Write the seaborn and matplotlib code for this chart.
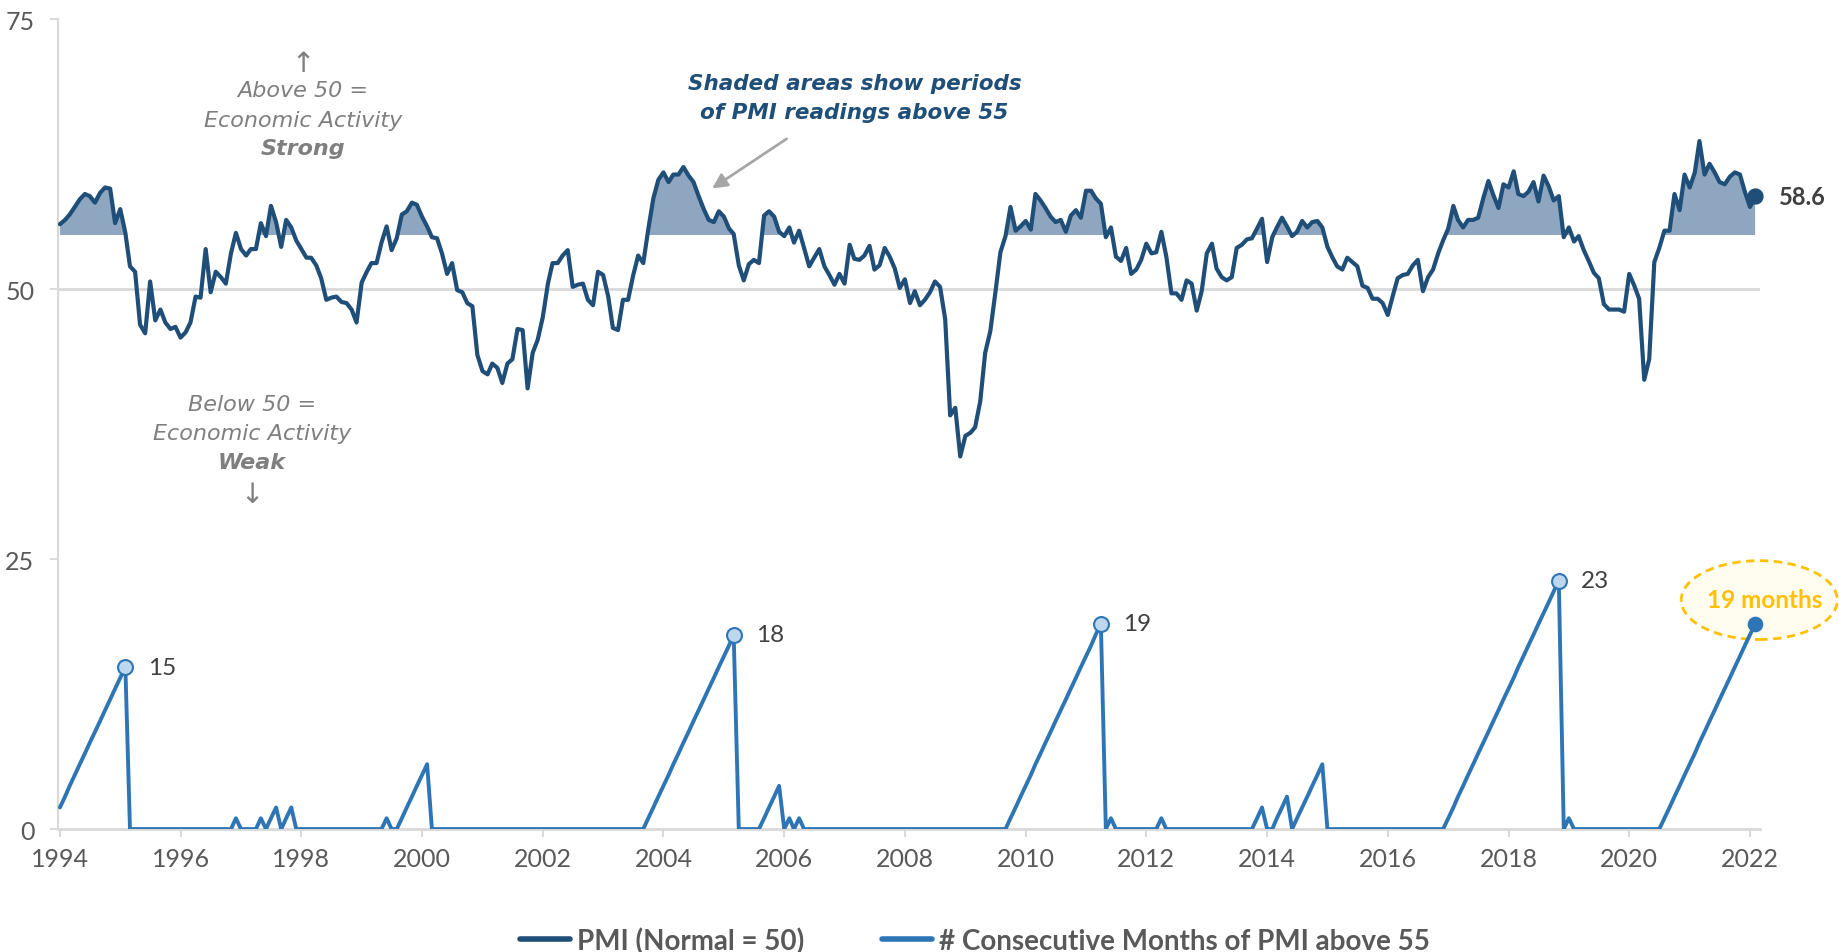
import pandas as pd
import matplotlib
matplotlib.use("Agg")
import matplotlib.pyplot as plt
import matplotlib.dates as mdates
from matplotlib.patches import Ellipse
from matplotlib.lines import Line2D
import seaborn as sns

# ISM manufacturing PMI, monthly from Jan 1994
pmi_1990s = [
    56.0, 56.4, 56.9, 57.6, 58.3, 58.8, 58.6, 58.0, 58.9, 59.4, 59.3, 56.1,  # 1994
    57.4, 55.2, 52.1, 51.6, 46.7, 45.9, 50.7, 47.1, 48.1, 46.9, 46.3, 46.5,  # 1995
    45.5, 46.0, 46.9, 49.3, 49.2, 53.7, 49.7, 51.6, 51.1, 50.5, 53.3, 55.2,  # 1996
    53.7, 53.1, 53.7, 53.7, 56.1, 54.9, 57.7, 56.2, 53.9, 56.4, 55.7, 54.5,  # 1997
    53.7, 52.9, 52.9, 52.2, 51.0, 49.0, 49.2, 49.3, 48.8, 48.7, 48.1, 46.9,  # 1998
    50.6, 51.6, 52.4, 52.4, 54.3, 55.8, 53.6, 54.7, 56.9, 57.2, 58.0, 57.8,  # 1999
]
pmi_2000s = [
    56.7, 55.8, 54.8, 54.7, 53.3, 51.4, 52.4, 49.9, 49.7, 48.7, 48.4, 43.9,  # 2000
    42.4, 42.1, 43.1, 42.7, 41.3, 43.1, 43.5, 46.3, 46.2, 40.8, 44.1, 45.3,  # 2001
    47.4, 50.5, 52.4, 52.4, 53.1, 53.6, 50.2, 50.4, 50.5, 49.0, 48.5, 51.6,  # 2002
    51.3, 49.3, 46.4, 46.2, 49.0, 49.0, 51.2, 53.1, 52.4, 55.5, 58.4, 60.1,  # 2003
    60.8, 59.9, 60.6, 60.6, 61.3, 60.5, 59.9, 58.6, 57.4, 56.4, 56.2, 57.2,  # 2004
    56.7, 55.6, 55.1, 52.2, 50.8, 52.3, 52.7, 52.4, 56.8, 57.2, 56.7, 55.3,  # 2005
    54.9, 55.7, 54.3, 55.4, 53.8, 52.1, 52.9, 53.7, 52.1, 51.3, 50.4, 51.4,  # 2006
    50.5, 54.1, 52.8, 52.7, 53.1, 54.0, 51.8, 52.2, 53.8, 53.0, 51.9, 50.1,  # 2007
    50.9, 48.7, 49.8, 48.5, 49.0, 49.7, 50.7, 50.2, 47.2, 38.3, 39.0, 34.5,  # 2008
    36.4, 36.7, 37.2, 39.6, 44.1, 46.1, 49.6, 53.4, 54.9, 57.6, 55.4, 55.8,  # 2009
]
pmi_2010s = [
    56.3, 55.5, 58.8, 58.2, 57.5, 56.7, 56.2, 56.4, 55.3, 56.8, 57.3, 56.6,  # 2010
    59.1, 59.1, 58.4, 57.9, 54.8, 55.7, 53.0, 52.6, 53.8, 51.4, 51.8, 52.7,  # 2011
    54.2, 53.3, 53.4, 55.3, 53.0, 49.6, 49.6, 49.0, 50.8, 50.5, 48.0, 49.8,  # 2012
    53.3, 54.2, 51.9, 51.1, 50.8, 51.1, 53.8, 54.1, 54.6, 54.7, 55.6, 56.5,  # 2013
    52.5, 54.8, 55.7, 56.6, 55.8, 54.9, 55.3, 56.3, 55.7, 56.2, 56.3, 55.7,  # 2014
    53.9, 52.9, 52.1, 51.8, 52.9, 52.5, 52.1, 50.3, 50.1, 49.1, 49.1, 48.7,  # 2015
    47.6, 49.4, 51.0, 51.3, 51.4, 52.2, 52.7, 49.8, 51.1, 51.8, 53.3, 54.5,  # 2016
    55.6, 57.7, 56.4, 55.7, 56.4, 56.4, 56.6, 58.4, 60.0, 58.7, 57.5, 59.7,  # 2017
    59.4, 60.9, 58.8, 58.6, 59.0, 59.9, 58.1, 60.5, 59.5, 58.2, 58.6, 54.8,  # 2018
    55.7, 54.4, 54.9, 53.6, 52.6, 51.5, 51.0, 48.6, 48.1, 48.1, 48.1, 47.9,  # 2019
]
pmi_2020s = [
    51.4, 50.3, 49.1, 41.6, 43.5, 52.5, 53.8, 55.4, 55.4, 58.8, 57.3, 60.6,  # 2020
    59.4, 60.8, 63.7, 60.6, 61.6, 60.8, 59.9, 59.7, 60.4, 60.8, 60.6, 59.0,  # 2021
    57.6, 58.6,                                                              # 2022
]

# consecutive months with PMI above 55
streak_1990s = [
    2, 3, 4, 5, 6, 7, 8, 9, 10, 11, 12, 13,
    14, 15, 0, 0, 0, 0, 0, 0, 0, 0, 0, 0,
    0, 0, 0, 0, 0, 0, 0, 0, 0, 0, 0, 1,
    0, 0, 0, 0, 1, 0, 1, 2, 0, 1, 2, 0,
    0, 0, 0, 0, 0, 0, 0, 0, 0, 0, 0, 0,
    0, 0, 0, 0, 0, 1, 0, 0, 1, 2, 3, 4,
]
streak_2000s = [
    5, 6, 0, 0, 0, 0, 0, 0, 0, 0, 0, 0,
    0, 0, 0, 0, 0, 0, 0, 0, 0, 0, 0, 0,
    0, 0, 0, 0, 0, 0, 0, 0, 0, 0, 0, 0,
    0, 0, 0, 0, 0, 0, 0, 0, 0, 1, 2, 3,
    4, 5, 6, 7, 8, 9, 10, 11, 12, 13, 14, 15,
    16, 17, 18, 0, 0, 0, 0, 0, 1, 2, 3, 4,
    0, 1, 0, 1, 0, 0, 0, 0, 0, 0, 0, 0,
    0, 0, 0, 0, 0, 0, 0, 0, 0, 0, 0, 0,
    0, 0, 0, 0, 0, 0, 0, 0, 0, 0, 0, 0,
    0, 0, 0, 0, 0, 0, 0, 0, 0, 1, 2, 3,
]
streak_2010s = [
    4, 5, 6, 7, 8, 9, 10, 11, 12, 13, 14, 15,
    16, 17, 18, 19, 0, 1, 0, 0, 0, 0, 0, 0,
    0, 0, 0, 1, 0, 0, 0, 0, 0, 0, 0, 0,
    0, 0, 0, 0, 0, 0, 0, 0, 0, 0, 1, 2,
    0, 0, 1, 2, 3, 0, 1, 2, 3, 4, 5, 6,
    0, 0, 0, 0, 0, 0, 0, 0, 0, 0, 0, 0,
    0, 0, 0, 0, 0, 0, 0, 0, 0, 0, 0, 0,
    1, 2, 3, 4, 5, 6, 7, 8, 9, 10, 11, 12,
    13, 14, 15, 16, 17, 18, 19, 20, 21, 22, 23, 0,
    1, 0, 0, 0, 0, 0, 0, 0, 0, 0, 0, 0,
]
streak_2020s = [
    0, 0, 0, 0, 0, 0, 0, 1, 2, 3, 4, 5,
    6, 7, 8, 9, 10, 11, 12, 13, 14, 15, 16, 17,
    18, 19,
]

DARK = "#1F4E79"
MID = "#2E75B6"
SHADE = "#8EA6BF"
GRID = "#D9D9D9"
TXT = "#595959"
NOTE = "#7F7F7F"
GOLD = "#FFC000"

pmi = pmi_1990s + pmi_2000s + pmi_2010s + pmi_2020s
streak = streak_1990s + streak_2000s + streak_2010s + streak_2020s
df = pd.DataFrame({
    "date": pd.date_range("1994-01-01", periods=len(pmi), freq="MS"),
    "pmi": pmi,
    "streak": streak,
})

sns.set_style("white")
plt.rcParams["font.family"] = ["Lato", "DejaVu Sans"]

fig = plt.figure(figsize=(18.39, 9.53), dpi=100)
ax = fig.add_axes([0.0315, 0.129, 0.9255, 0.850])

ax.axhline(50, color=GRID, lw=2, zorder=1)
xnum = mdates.date2num(df["date"])
ax.fill_between(xnum, 55, df["pmi"], where=df["pmi"] > 55, interpolate=True,
                color=SHADE, lw=0, zorder=2)
sns.lineplot(data=df, x="date", y="pmi", ax=ax, color=DARK, lw=3.0, zorder=4)
sns.lineplot(data=df, x="date", y="streak", ax=ax, color=MID, lw=2.8, zorder=4)

# peaks of the longer streaks
nxt = df["streak"].shift(-1)
peaks = df[(df["streak"] >= 10) & (nxt == 0)]
ax.scatter(mdates.date2num(peaks["date"]), peaks["streak"], s=115, color="#BDD7EE",
           edgecolor=MID, lw=1.5, zorder=5)
for d, v in zip(peaks["date"], peaks["streak"]):
    ax.annotate(str(v), (mdates.date2num(d), v), xytext=(16, 0), textcoords="offset points",
                ha="left", va="center", fontsize=17.5, color="#404040")

last = df.iloc[-1]
lx = mdates.date2num(last["date"])
ax.scatter([lx], [last["pmi"]], s=115, color=DARK, zorder=6, clip_on=False)
ax.annotate(f"{last['pmi']:.1f}", (lx, last["pmi"]), xytext=(17, 0), textcoords="offset points",
            ha="left", va="center", fontsize=17, fontweight="bold", color="#404040",
            annotation_clip=False)

# current streak callout
ax.add_patch(Ellipse((lx + 25, last["streak"] + 2.2), width=945, height=7.3, facecolor="#FFFCF0",
                     edgecolor=GOLD, lw=2, ls=(0, (3, 2)), zorder=3, clip_on=False))
ax.scatter([lx], [last["streak"]], s=105, color=MID, zorder=6, clip_on=False)
ax.text(lx + 60, last["streak"] + 2.3, f"{last['streak']} months", ha="center", va="center",
        fontsize=17.5, fontweight="bold", color=GOLD, zorder=7, clip_on=False)

# notes
kw = dict(transform=ax.transAxes, ha="center", va="center", color=NOTE, fontsize=16,
          style="italic", family="DejaVu Sans")
ax.text(0.144, 0.946, "\u2191", **dict(kw, fontsize=20, style="normal"))
ax.text(0.144, 0.912, "Above 50 =", **kw)
ax.text(0.144, 0.875, "Economic Activity", **kw)
ax.text(0.144, 0.841, "Strong", fontweight="bold", **kw)
ax.text(0.114, 0.525, "Below 50 =", **kw)
ax.text(0.114, 0.489, "Economic Activity", **kw)
ax.text(0.114, 0.453, "Weak", fontweight="bold", **kw)
ax.text(0.114, 0.414, "\u2193", **dict(kw, fontsize=20, style="normal"))

hk = dict(transform=ax.transAxes, ha="center", va="center", fontsize=15.5, fontweight="bold",
          style="italic", color=DARK, family="DejaVu Sans")
ax.text(0.468, 0.921, "Shaded areas show periods", **hk)
ax.text(0.468, 0.885, "of PMI readings above 55", **hk)
ax.annotate("", xy=(0.383, 0.789), xytext=(0.4295, 0.854), xycoords="axes fraction",
            arrowprops=dict(arrowstyle="-|>", color="#A6A6A6", lw=2, mutation_scale=22))

ax.set_ylim(0, 75)
ax.set_yticks([0, 25, 50, 75])
ax.set_xlim(pd.Timestamp("1993-12-20"), pd.Timestamp("2022-03-02"))
ax.xaxis.set_major_locator(mdates.YearLocator(2))
ax.xaxis.set_major_formatter(mdates.DateFormatter("%Y"))
ax.tick_params(axis="both", bottom=True, left=True, colors=GRID, labelcolor=TXT,
               labelsize=18, length=6, width=1.5, direction="out")
ax.tick_params(axis="y", pad=11)
ax.tick_params(axis="x", pad=7)
ax.set_xlabel("")
ax.set_ylabel("")
for s in ["top", "right"]:
    ax.spines[s].set_visible(False)
ax.spines["left"].set_color(GRID)
ax.spines["left"].set_linewidth(1.5)
ax.spines["bottom"].set_color(GRID)
ax.spines["bottom"].set_linewidth(2)

handles = [Line2D([0], [0], color=DARK, lw=4), Line2D([0], [0], color=MID, lw=4)]
fig.legend(handles, ["PMI (Normal = 50)", "# Consecutive Months of PMI above 55"],
           loc="center", bbox_to_anchor=(0.53, 0.012), ncol=2, frameon=False,
           prop=dict(weight="bold", size=20), labelcolor=TXT, handlelength=1.8,
           handletextpad=0.25, columnspacing=2.8)

fig.savefig("out.png", dpi=100)
